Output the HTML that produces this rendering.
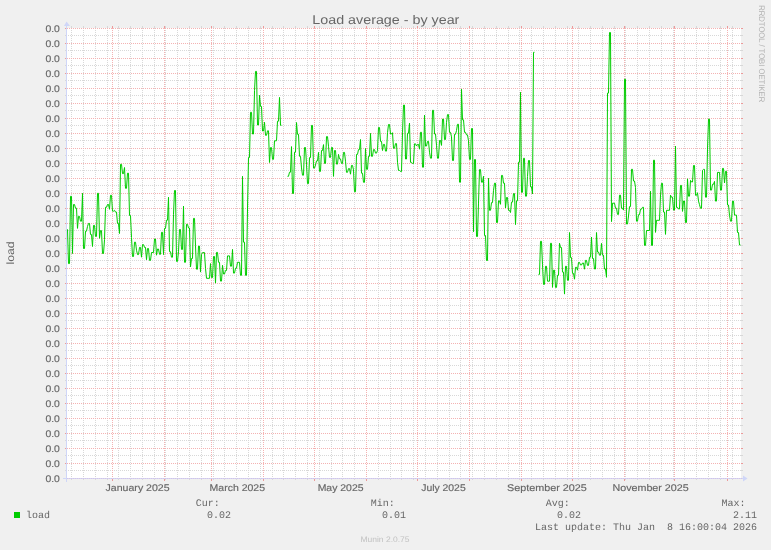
<!DOCTYPE html><html><head><meta charset="utf-8"><title>Load average - by year</title>
<style>html,body{margin:0;padding:0;background:#f0f0f0;overflow:hidden}svg{display:block;will-change:transform;-webkit-font-smoothing:antialiased}text{text-rendering:geometricPrecision}text{font-family:"Liberation Sans",sans-serif;fill:#666}.m{font-family:"Liberation Mono",monospace;font-size:10px}.a{font-size:9.7px;stroke:#666;stroke-width:.15px}</style></head><body>
<svg width="771" height="550" viewBox="0 0 771 550">
<rect width="771" height="550" fill="#f0f0f0"/>
<rect x="67" y="28" width="674" height="450" fill="#fff"/>
<g shape-rendering="crispEdges" fill="none" stroke-width="1">
<path d="M66 35.5H742" stroke="#d8d8d8" stroke-dasharray="1 1"/>
<path d="M65 35.5H67M741 35.5H743" stroke="#d8d8d8"/>
<path d="M66 50.5H742" stroke="#d8d8d8" stroke-dasharray="1 1"/>
<path d="M65 50.5H67M741 50.5H743" stroke="#d8d8d8"/>
<path d="M66 65.5H742" stroke="#d8d8d8" stroke-dasharray="1 1"/>
<path d="M65 65.5H67M741 65.5H743" stroke="#d8d8d8"/>
<path d="M66 80.5H742" stroke="#d8d8d8" stroke-dasharray="1 1"/>
<path d="M65 80.5H67M741 80.5H743" stroke="#d8d8d8"/>
<path d="M66 95.5H742" stroke="#d8d8d8" stroke-dasharray="1 1"/>
<path d="M65 95.5H67M741 95.5H743" stroke="#d8d8d8"/>
<path d="M66 110.5H742" stroke="#d8d8d8" stroke-dasharray="1 1"/>
<path d="M65 110.5H67M741 110.5H743" stroke="#d8d8d8"/>
<path d="M66 125.5H742" stroke="#d8d8d8" stroke-dasharray="1 1"/>
<path d="M65 125.5H67M741 125.5H743" stroke="#d8d8d8"/>
<path d="M66 140.5H742" stroke="#d8d8d8" stroke-dasharray="1 1"/>
<path d="M65 140.5H67M741 140.5H743" stroke="#d8d8d8"/>
<path d="M66 155.5H742" stroke="#d8d8d8" stroke-dasharray="1 1"/>
<path d="M65 155.5H67M741 155.5H743" stroke="#d8d8d8"/>
<path d="M66 170.5H742" stroke="#d8d8d8" stroke-dasharray="1 1"/>
<path d="M65 170.5H67M741 170.5H743" stroke="#d8d8d8"/>
<path d="M66 185.5H742" stroke="#d8d8d8" stroke-dasharray="1 1"/>
<path d="M65 185.5H67M741 185.5H743" stroke="#d8d8d8"/>
<path d="M66 200.5H742" stroke="#d8d8d8" stroke-dasharray="1 1"/>
<path d="M65 200.5H67M741 200.5H743" stroke="#d8d8d8"/>
<path d="M66 215.5H742" stroke="#d8d8d8" stroke-dasharray="1 1"/>
<path d="M65 215.5H67M741 215.5H743" stroke="#d8d8d8"/>
<path d="M66 230.5H742" stroke="#d8d8d8" stroke-dasharray="1 1"/>
<path d="M65 230.5H67M741 230.5H743" stroke="#d8d8d8"/>
<path d="M66 245.5H742" stroke="#d8d8d8" stroke-dasharray="1 1"/>
<path d="M65 245.5H67M741 245.5H743" stroke="#d8d8d8"/>
<path d="M66 260.5H742" stroke="#d8d8d8" stroke-dasharray="1 1"/>
<path d="M65 260.5H67M741 260.5H743" stroke="#d8d8d8"/>
<path d="M66 275.5H742" stroke="#d8d8d8" stroke-dasharray="1 1"/>
<path d="M65 275.5H67M741 275.5H743" stroke="#d8d8d8"/>
<path d="M66 290.5H742" stroke="#d8d8d8" stroke-dasharray="1 1"/>
<path d="M65 290.5H67M741 290.5H743" stroke="#d8d8d8"/>
<path d="M66 305.5H742" stroke="#d8d8d8" stroke-dasharray="1 1"/>
<path d="M65 305.5H67M741 305.5H743" stroke="#d8d8d8"/>
<path d="M66 320.5H742" stroke="#d8d8d8" stroke-dasharray="1 1"/>
<path d="M65 320.5H67M741 320.5H743" stroke="#d8d8d8"/>
<path d="M66 335.5H742" stroke="#d8d8d8" stroke-dasharray="1 1"/>
<path d="M65 335.5H67M741 335.5H743" stroke="#d8d8d8"/>
<path d="M66 350.5H742" stroke="#d8d8d8" stroke-dasharray="1 1"/>
<path d="M65 350.5H67M741 350.5H743" stroke="#d8d8d8"/>
<path d="M66 365.5H742" stroke="#d8d8d8" stroke-dasharray="1 1"/>
<path d="M65 365.5H67M741 365.5H743" stroke="#d8d8d8"/>
<path d="M66 380.5H742" stroke="#d8d8d8" stroke-dasharray="1 1"/>
<path d="M65 380.5H67M741 380.5H743" stroke="#d8d8d8"/>
<path d="M66 395.5H742" stroke="#d8d8d8" stroke-dasharray="1 1"/>
<path d="M65 395.5H67M741 395.5H743" stroke="#d8d8d8"/>
<path d="M66 410.5H742" stroke="#d8d8d8" stroke-dasharray="1 1"/>
<path d="M65 410.5H67M741 410.5H743" stroke="#d8d8d8"/>
<path d="M66 425.5H742" stroke="#d8d8d8" stroke-dasharray="1 1"/>
<path d="M65 425.5H67M741 425.5H743" stroke="#d8d8d8"/>
<path d="M66 440.5H742" stroke="#d8d8d8" stroke-dasharray="1 1"/>
<path d="M65 440.5H67M741 440.5H743" stroke="#d8d8d8"/>
<path d="M66 455.5H742" stroke="#d8d8d8" stroke-dasharray="1 1"/>
<path d="M65 455.5H67M741 455.5H743" stroke="#d8d8d8"/>
<path d="M66 470.5H742" stroke="#d8d8d8" stroke-dasharray="1 1"/>
<path d="M65 470.5H67M741 470.5H743" stroke="#d8d8d8"/>
<path d="M732.5 479V27" stroke="#d8d8d8" stroke-dasharray="1 1"/>
<path d="M732.5 26V28M732.5 478V480" stroke="#d8d8d8"/>
<path d="M720.5 479V27" stroke="#d8d8d8" stroke-dasharray="1 1"/>
<path d="M720.5 26V28M720.5 478V480" stroke="#d8d8d8"/>
<path d="M708.5 479V27" stroke="#d8d8d8" stroke-dasharray="1 1"/>
<path d="M708.5 26V28M708.5 478V480" stroke="#d8d8d8"/>
<path d="M696.5 479V27" stroke="#d8d8d8" stroke-dasharray="1 1"/>
<path d="M696.5 26V28M696.5 478V480" stroke="#d8d8d8"/>
<path d="M684.5 479V27" stroke="#d8d8d8" stroke-dasharray="1 1"/>
<path d="M684.5 26V28M684.5 478V480" stroke="#d8d8d8"/>
<path d="M673.5 479V27" stroke="#d8d8d8" stroke-dasharray="1 1"/>
<path d="M673.5 26V28M673.5 478V480" stroke="#d8d8d8"/>
<path d="M661.5 479V27" stroke="#d8d8d8" stroke-dasharray="1 1"/>
<path d="M661.5 26V28M661.5 478V480" stroke="#d8d8d8"/>
<path d="M649.5 479V27" stroke="#d8d8d8" stroke-dasharray="1 1"/>
<path d="M649.5 26V28M649.5 478V480" stroke="#d8d8d8"/>
<path d="M637.5 479V27" stroke="#d8d8d8" stroke-dasharray="1 1"/>
<path d="M637.5 26V28M637.5 478V480" stroke="#d8d8d8"/>
<path d="M625.5 479V27" stroke="#d8d8d8" stroke-dasharray="1 1"/>
<path d="M625.5 26V28M625.5 478V480" stroke="#d8d8d8"/>
<path d="M614.5 479V27" stroke="#d8d8d8" stroke-dasharray="1 1"/>
<path d="M614.5 26V28M614.5 478V480" stroke="#d8d8d8"/>
<path d="M602.5 479V27" stroke="#d8d8d8" stroke-dasharray="1 1"/>
<path d="M602.5 26V28M602.5 478V480" stroke="#d8d8d8"/>
<path d="M590.5 479V27" stroke="#d8d8d8" stroke-dasharray="1 1"/>
<path d="M590.5 26V28M590.5 478V480" stroke="#d8d8d8"/>
<path d="M578.5 479V27" stroke="#d8d8d8" stroke-dasharray="1 1"/>
<path d="M578.5 26V28M578.5 478V480" stroke="#d8d8d8"/>
<path d="M567.5 479V27" stroke="#d8d8d8" stroke-dasharray="1 1"/>
<path d="M567.5 26V28M567.5 478V480" stroke="#d8d8d8"/>
<path d="M555.5 479V27" stroke="#d8d8d8" stroke-dasharray="1 1"/>
<path d="M555.5 26V28M555.5 478V480" stroke="#d8d8d8"/>
<path d="M543.5 479V27" stroke="#d8d8d8" stroke-dasharray="1 1"/>
<path d="M543.5 26V28M543.5 478V480" stroke="#d8d8d8"/>
<path d="M531.5 479V27" stroke="#d8d8d8" stroke-dasharray="1 1"/>
<path d="M531.5 26V28M531.5 478V480" stroke="#d8d8d8"/>
<path d="M519.5 479V27" stroke="#d8d8d8" stroke-dasharray="1 1"/>
<path d="M519.5 26V28M519.5 478V480" stroke="#d8d8d8"/>
<path d="M508.5 479V27" stroke="#d8d8d8" stroke-dasharray="1 1"/>
<path d="M508.5 26V28M508.5 478V480" stroke="#d8d8d8"/>
<path d="M496.5 479V27" stroke="#d8d8d8" stroke-dasharray="1 1"/>
<path d="M496.5 26V28M496.5 478V480" stroke="#d8d8d8"/>
<path d="M484.5 479V27" stroke="#d8d8d8" stroke-dasharray="1 1"/>
<path d="M484.5 26V28M484.5 478V480" stroke="#d8d8d8"/>
<path d="M472.5 479V27" stroke="#d8d8d8" stroke-dasharray="1 1"/>
<path d="M472.5 26V28M472.5 478V480" stroke="#d8d8d8"/>
<path d="M460.5 479V27" stroke="#d8d8d8" stroke-dasharray="1 1"/>
<path d="M460.5 26V28M460.5 478V480" stroke="#d8d8d8"/>
<path d="M449.5 479V27" stroke="#d8d8d8" stroke-dasharray="1 1"/>
<path d="M449.5 26V28M449.5 478V480" stroke="#d8d8d8"/>
<path d="M437.5 479V27" stroke="#d8d8d8" stroke-dasharray="1 1"/>
<path d="M437.5 26V28M437.5 478V480" stroke="#d8d8d8"/>
<path d="M425.5 479V27" stroke="#d8d8d8" stroke-dasharray="1 1"/>
<path d="M425.5 26V28M425.5 478V480" stroke="#d8d8d8"/>
<path d="M413.5 479V27" stroke="#d8d8d8" stroke-dasharray="1 1"/>
<path d="M413.5 26V28M413.5 478V480" stroke="#d8d8d8"/>
<path d="M401.5 479V27" stroke="#d8d8d8" stroke-dasharray="1 1"/>
<path d="M401.5 26V28M401.5 478V480" stroke="#d8d8d8"/>
<path d="M390.5 479V27" stroke="#d8d8d8" stroke-dasharray="1 1"/>
<path d="M390.5 26V28M390.5 478V480" stroke="#d8d8d8"/>
<path d="M378.5 479V27" stroke="#d8d8d8" stroke-dasharray="1 1"/>
<path d="M378.5 26V28M378.5 478V480" stroke="#d8d8d8"/>
<path d="M354.5 479V27" stroke="#d8d8d8" stroke-dasharray="1 1"/>
<path d="M354.5 26V28M354.5 478V480" stroke="#d8d8d8"/>
<path d="M342.5 479V27" stroke="#d8d8d8" stroke-dasharray="1 1"/>
<path d="M342.5 26V28M342.5 478V480" stroke="#d8d8d8"/>
<path d="M331.5 479V27" stroke="#d8d8d8" stroke-dasharray="1 1"/>
<path d="M331.5 26V28M331.5 478V480" stroke="#d8d8d8"/>
<path d="M319.5 479V27" stroke="#d8d8d8" stroke-dasharray="1 1"/>
<path d="M319.5 26V28M319.5 478V480" stroke="#d8d8d8"/>
<path d="M307.5 479V27" stroke="#d8d8d8" stroke-dasharray="1 1"/>
<path d="M307.5 26V28M307.5 478V480" stroke="#d8d8d8"/>
<path d="M295.5 479V27" stroke="#d8d8d8" stroke-dasharray="1 1"/>
<path d="M295.5 26V28M295.5 478V480" stroke="#d8d8d8"/>
<path d="M283.5 479V27" stroke="#d8d8d8" stroke-dasharray="1 1"/>
<path d="M283.5 26V28M283.5 478V480" stroke="#d8d8d8"/>
<path d="M272.5 479V27" stroke="#d8d8d8" stroke-dasharray="1 1"/>
<path d="M272.5 26V28M272.5 478V480" stroke="#d8d8d8"/>
<path d="M260.5 479V27" stroke="#d8d8d8" stroke-dasharray="1 1"/>
<path d="M260.5 26V28M260.5 478V480" stroke="#d8d8d8"/>
<path d="M248.5 479V27" stroke="#d8d8d8" stroke-dasharray="1 1"/>
<path d="M248.5 26V28M248.5 478V480" stroke="#d8d8d8"/>
<path d="M236.5 479V27" stroke="#d8d8d8" stroke-dasharray="1 1"/>
<path d="M236.5 26V28M236.5 478V480" stroke="#d8d8d8"/>
<path d="M224.5 479V27" stroke="#d8d8d8" stroke-dasharray="1 1"/>
<path d="M224.5 26V28M224.5 478V480" stroke="#d8d8d8"/>
<path d="M213.5 479V27" stroke="#d8d8d8" stroke-dasharray="1 1"/>
<path d="M213.5 26V28M213.5 478V480" stroke="#d8d8d8"/>
<path d="M201.5 479V27" stroke="#d8d8d8" stroke-dasharray="1 1"/>
<path d="M201.5 26V28M201.5 478V480" stroke="#d8d8d8"/>
<path d="M189.5 479V27" stroke="#d8d8d8" stroke-dasharray="1 1"/>
<path d="M189.5 26V28M189.5 478V480" stroke="#d8d8d8"/>
<path d="M177.5 479V27" stroke="#d8d8d8" stroke-dasharray="1 1"/>
<path d="M177.5 26V28M177.5 478V480" stroke="#d8d8d8"/>
<path d="M165.5 479V27" stroke="#d8d8d8" stroke-dasharray="1 1"/>
<path d="M165.5 26V28M165.5 478V480" stroke="#d8d8d8"/>
<path d="M154.5 479V27" stroke="#d8d8d8" stroke-dasharray="1 1"/>
<path d="M154.5 26V28M154.5 478V480" stroke="#d8d8d8"/>
<path d="M142.5 479V27" stroke="#d8d8d8" stroke-dasharray="1 1"/>
<path d="M142.5 26V28M142.5 478V480" stroke="#d8d8d8"/>
<path d="M130.5 479V27" stroke="#d8d8d8" stroke-dasharray="1 1"/>
<path d="M130.5 26V28M130.5 478V480" stroke="#d8d8d8"/>
<path d="M118.5 479V27" stroke="#d8d8d8" stroke-dasharray="1 1"/>
<path d="M118.5 26V28M118.5 478V480" stroke="#d8d8d8"/>
<path d="M107.5 479V27" stroke="#d8d8d8" stroke-dasharray="1 1"/>
<path d="M107.5 26V28M107.5 478V480" stroke="#d8d8d8"/>
<path d="M95.5 479V27" stroke="#d8d8d8" stroke-dasharray="1 1"/>
<path d="M95.5 26V28M95.5 478V480" stroke="#d8d8d8"/>
<path d="M83.5 479V27" stroke="#d8d8d8" stroke-dasharray="1 1"/>
<path d="M83.5 26V28M83.5 478V480" stroke="#d8d8d8"/>
<path d="M71.5 479V27" stroke="#d8d8d8" stroke-dasharray="1 1"/>
<path d="M71.5 26V28M71.5 478V480" stroke="#d8d8d8"/>
<path d="M65 28.5H743" stroke="#f4b2b2" stroke-dasharray="1 1"/>
<path d="M65 28.5H67M741 28.5H743" stroke="#ec9a9a"/>
<path d="M65 43.5H743" stroke="#f4b2b2" stroke-dasharray="1 1"/>
<path d="M65 43.5H67M741 43.5H743" stroke="#ec9a9a"/>
<path d="M65 58.5H743" stroke="#f4b2b2" stroke-dasharray="1 1"/>
<path d="M65 58.5H67M741 58.5H743" stroke="#ec9a9a"/>
<path d="M65 73.5H743" stroke="#f4b2b2" stroke-dasharray="1 1"/>
<path d="M65 73.5H67M741 73.5H743" stroke="#ec9a9a"/>
<path d="M65 88.5H743" stroke="#f4b2b2" stroke-dasharray="1 1"/>
<path d="M65 88.5H67M741 88.5H743" stroke="#ec9a9a"/>
<path d="M65 103.5H743" stroke="#f4b2b2" stroke-dasharray="1 1"/>
<path d="M65 103.5H67M741 103.5H743" stroke="#ec9a9a"/>
<path d="M65 118.5H743" stroke="#f4b2b2" stroke-dasharray="1 1"/>
<path d="M65 118.5H67M741 118.5H743" stroke="#ec9a9a"/>
<path d="M65 133.5H743" stroke="#f4b2b2" stroke-dasharray="1 1"/>
<path d="M65 133.5H67M741 133.5H743" stroke="#ec9a9a"/>
<path d="M65 148.5H743" stroke="#f4b2b2" stroke-dasharray="1 1"/>
<path d="M65 148.5H67M741 148.5H743" stroke="#ec9a9a"/>
<path d="M65 163.5H743" stroke="#f4b2b2" stroke-dasharray="1 1"/>
<path d="M65 163.5H67M741 163.5H743" stroke="#ec9a9a"/>
<path d="M65 178.5H743" stroke="#f4b2b2" stroke-dasharray="1 1"/>
<path d="M65 178.5H67M741 178.5H743" stroke="#ec9a9a"/>
<path d="M65 193.5H743" stroke="#f4b2b2" stroke-dasharray="1 1"/>
<path d="M65 193.5H67M741 193.5H743" stroke="#ec9a9a"/>
<path d="M65 208.5H743" stroke="#f4b2b2" stroke-dasharray="1 1"/>
<path d="M65 208.5H67M741 208.5H743" stroke="#ec9a9a"/>
<path d="M65 223.5H743" stroke="#f4b2b2" stroke-dasharray="1 1"/>
<path d="M65 223.5H67M741 223.5H743" stroke="#ec9a9a"/>
<path d="M65 238.5H743" stroke="#f4b2b2" stroke-dasharray="1 1"/>
<path d="M65 238.5H67M741 238.5H743" stroke="#ec9a9a"/>
<path d="M65 253.5H743" stroke="#f4b2b2" stroke-dasharray="1 1"/>
<path d="M65 253.5H67M741 253.5H743" stroke="#ec9a9a"/>
<path d="M65 268.5H743" stroke="#f4b2b2" stroke-dasharray="1 1"/>
<path d="M65 268.5H67M741 268.5H743" stroke="#ec9a9a"/>
<path d="M65 283.5H743" stroke="#f4b2b2" stroke-dasharray="1 1"/>
<path d="M65 283.5H67M741 283.5H743" stroke="#ec9a9a"/>
<path d="M65 298.5H743" stroke="#f4b2b2" stroke-dasharray="1 1"/>
<path d="M65 298.5H67M741 298.5H743" stroke="#ec9a9a"/>
<path d="M65 313.5H743" stroke="#f4b2b2" stroke-dasharray="1 1"/>
<path d="M65 313.5H67M741 313.5H743" stroke="#ec9a9a"/>
<path d="M65 328.5H743" stroke="#f4b2b2" stroke-dasharray="1 1"/>
<path d="M65 328.5H67M741 328.5H743" stroke="#ec9a9a"/>
<path d="M65 343.5H743" stroke="#f4b2b2" stroke-dasharray="1 1"/>
<path d="M65 343.5H67M741 343.5H743" stroke="#ec9a9a"/>
<path d="M65 358.5H743" stroke="#f4b2b2" stroke-dasharray="1 1"/>
<path d="M65 358.5H67M741 358.5H743" stroke="#ec9a9a"/>
<path d="M65 373.5H743" stroke="#f4b2b2" stroke-dasharray="1 1"/>
<path d="M65 373.5H67M741 373.5H743" stroke="#ec9a9a"/>
<path d="M65 388.5H743" stroke="#f4b2b2" stroke-dasharray="1 1"/>
<path d="M65 388.5H67M741 388.5H743" stroke="#ec9a9a"/>
<path d="M65 403.5H743" stroke="#f4b2b2" stroke-dasharray="1 1"/>
<path d="M65 403.5H67M741 403.5H743" stroke="#ec9a9a"/>
<path d="M65 418.5H743" stroke="#f4b2b2" stroke-dasharray="1 1"/>
<path d="M65 418.5H67M741 418.5H743" stroke="#ec9a9a"/>
<path d="M65 433.5H743" stroke="#f4b2b2" stroke-dasharray="1 1"/>
<path d="M65 433.5H67M741 433.5H743" stroke="#ec9a9a"/>
<path d="M65 448.5H743" stroke="#f4b2b2" stroke-dasharray="1 1"/>
<path d="M65 448.5H67M741 448.5H743" stroke="#ec9a9a"/>
<path d="M65 463.5H743" stroke="#f4b2b2" stroke-dasharray="1 1"/>
<path d="M65 463.5H67M741 463.5H743" stroke="#ec9a9a"/>
<path d="M65 478.5H743" stroke="#f4b2b2" stroke-dasharray="1 1"/>
<path d="M65 478.5H67M741 478.5H743" stroke="#ec9a9a"/>
<path d="M727.5 481V26" stroke="#f4b2b2" stroke-dasharray="1 1"/>
<path d="M727.5 26V28M727.5 478V481" stroke="#ec9a9a"/>
<path d="M674.5 481V26" stroke="#f4b2b2" stroke-dasharray="1 1"/>
<path d="M674.5 26V28M674.5 478V481" stroke="#ec9a9a"/>
<path d="M624.5 481V26" stroke="#f4b2b2" stroke-dasharray="1 1"/>
<path d="M624.5 26V28M624.5 478V481" stroke="#ec9a9a"/>
<path d="M572.5 481V26" stroke="#f4b2b2" stroke-dasharray="1 1"/>
<path d="M572.5 26V28M572.5 478V481" stroke="#ec9a9a"/>
<path d="M521.5 481V26" stroke="#f4b2b2" stroke-dasharray="1 1"/>
<path d="M521.5 26V28M521.5 478V481" stroke="#ec9a9a"/>
<path d="M469.5 481V26" stroke="#f4b2b2" stroke-dasharray="1 1"/>
<path d="M469.5 26V28M469.5 478V481" stroke="#ec9a9a"/>
<path d="M417.5 481V26" stroke="#f4b2b2" stroke-dasharray="1 1"/>
<path d="M417.5 26V28M417.5 478V481" stroke="#ec9a9a"/>
<path d="M366.5 481V26" stroke="#f4b2b2" stroke-dasharray="1 1"/>
<path d="M366.5 26V28M366.5 478V481" stroke="#ec9a9a"/>
<path d="M314.5 481V26" stroke="#f4b2b2" stroke-dasharray="1 1"/>
<path d="M314.5 26V28M314.5 478V481" stroke="#ec9a9a"/>
<path d="M263.5 481V26" stroke="#f4b2b2" stroke-dasharray="1 1"/>
<path d="M263.5 26V28M263.5 478V481" stroke="#ec9a9a"/>
<path d="M211.5 481V26" stroke="#f4b2b2" stroke-dasharray="1 1"/>
<path d="M211.5 26V28M211.5 478V481" stroke="#ec9a9a"/>
<path d="M164.5 481V26" stroke="#f4b2b2" stroke-dasharray="1 1"/>
<path d="M164.5 26V28M164.5 478V481" stroke="#ec9a9a"/>
<path d="M112.5 481V26" stroke="#f4b2b2" stroke-dasharray="1 1"/>
<path d="M112.5 26V28M112.5 478V481" stroke="#ec9a9a"/>
</g>
<path d="M67.5 229.3L68.5 263.6L69.5 263.6L70.5 196.3L71.5 196.3L72.5 253.5L73.5 204.5L74.5 204.5L75.5 208.2L76.5 208.2L77.5 228.4L78.5 216.4L79.5 216.4L80.5 221.2L81.5 221.2L82.5 193.3L83.5 248.5L84.5 248.5L85.5 231.2L86.5 231.2L87.5 226.4L88.5 223.4L89.5 223.4L90.5 234.5L91.5 234.5L92.5 246.5L93.5 225.4L94.5 225.4L95.5 236.4L96.5 236.4L97.5 193.3L98.5 193.3L99.5 238.3L100.5 230.6L101.5 230.6L102.5 253.5L103.5 253.5L104.5 239.6L105.5 207.3L106.5 207.3L107.5 204.5L108.5 204.5L109.5 209.3L110.5 195.3L111.5 195.3L112.5 211.2L113.5 211.2L114.5 210.3L115.5 212.1L116.5 212.1L117.5 223.4L118.5 223.4L119.5 233.5L120.5 164.3L121.5 164.3L122.5 173.6L123.5 173.6L124.5 167.5L125.5 188.3L126.5 188.3L127.5 173.2L128.5 173.2L129.5 215.5L130.5 215.5L131.5 237.6L132.5 256.5L133.5 256.5L134.5 242.2L135.5 242.2L136.5 250.2L137.5 254.6L138.5 254.6L139.5 247.4L140.5 247.4L141.5 257.2L142.5 244.6L143.5 244.6L144.5 247.4L145.5 247.4L146.5 259.7L147.5 248.5L148.5 248.5L149.5 260.4L150.5 260.4L151.5 252.5L153.5 252.5L154.5 239L155.5 239L156.5 255.2L157.5 249L158.5 249L159.5 254.3L160.5 254.3L161.5 232.3L162.5 232.3L163.5 254.6L164.5 228.4L165.5 228.4L166.5 220.2L167.5 220.2L168.5 197.3L169.5 251.7L170.5 251.7L171.5 257.2L172.5 257.2L173.5 214.3L174.5 190.5L175.5 190.5L176.5 261.4L177.5 261.4L178.5 251.8L179.5 229.5L180.5 229.5L181.5 249.4L182.5 249.4L183.5 206.2L184.5 262.3L185.5 262.3L186.5 224.3L187.5 224.3L188.5 228L189.5 228L190.5 266.9L191.5 258.5L192.5 258.5L193.5 218.4L194.5 218.4L195.5 245.8L196.5 269.2L197.5 269.2L198.5 246.1L199.5 246.1L200.5 272.1L201.5 254.6L202.5 252.6L204.5 252.6L205.5 268.4L206.5 278.3L209.5 278.3L210.5 263.6L211.5 277.6L212.5 277.6L213.5 256.5L214.5 256.5L215.5 283.1L216.5 252.4L217.5 252.4L218.5 262.3L219.5 262.3L220.5 281.1L221.5 281.1L222.5 265.3L223.5 274L224.5 274L225.5 270.5L226.5 270.5L227.5 255.9L229.5 255.9L230.5 266.2L231.5 266.2L232.5 249.4L233.5 273.1L234.5 273.1L235.5 268.2L236.5 268.2L237.5 262.3L239.5 262.3L240.5 275.3L241.5 275.3L242.5 176.3L243.5 242.2L244.5 242.2L245.5 275.3L246.5 275.3L247.5 209L248.5 157.5L249.5 157.5L250.5 112.3L251.5 112.3L252.5 134L253.5 134L254.5 90.7L255.5 71.4L256.5 71.4L257.5 125L258.5 125L259.5 95.3L260.5 106.4L261.5 106.4L262.5 131L263.5 131L264.5 122.3L265.5 135.3L266.5 135.3L267.5 130.8L268.5 130.8L269.5 162.5L270.5 147.6L271.5 147.6L272.5 159.3L273.5 159.3L274.5 140.8L276.5 140.8L277.5 121.2L278.5 121.2L279.5 97.4L280.5 125.3L281.5 125.3M287.5 176.3L288.5 176.3L289.5 172.2L290.5 172.2L291.5 146.6L292.5 193.5L293.5 193.5L294.5 152.2L295.5 152.2L296.5 122.5L297.5 134.3L298.5 134.3L299.5 156.3L300.5 156.3L301.5 167.9L302.5 175.2L303.5 175.2L304.5 147.5L305.5 147.5L306.5 164.2L307.5 183.6L308.5 183.6L309.5 157.6L310.5 157.6L311.5 125.4L312.5 125.4L313.5 168.1L314.5 168.1L315.5 165L316.5 160.9L317.5 160.9L318.5 152.4L319.5 171.4L320.5 171.4L321.5 150.5L322.5 150.5L323.5 144.6L324.5 163.4L325.5 163.4L326.5 136.6L327.5 136.6L328.5 146.2L329.5 157.4L330.5 157.4L331.5 147.5L332.5 147.5L333.5 176.4L334.5 150.5L335.5 150.5L336.5 164.1L337.5 164.1L338.5 154.4L339.5 158.9L340.5 158.9L341.5 163.4L342.5 163.4L343.5 152.4L344.5 152.4L345.5 161.2L346.5 172.3L347.5 172.3L348.5 168.6L349.5 168.6L350.5 174.2L351.5 165.4L352.5 165.4L353.5 169.9L354.5 191.8L355.5 191.8L356.5 154.4L357.5 154.4L358.5 149.6L359.5 149.6L360.5 139.5L361.5 173.2L362.5 173.2L363.5 182.3L364.5 182.3L365.5 148.5L366.5 169.3L367.5 169.3L368.5 156.3L369.5 156.3L370.5 133.4L371.5 156.3L372.5 156.3L373.5 149.6L374.5 149.6L375.5 153.1L376.5 153.1L377.5 150.5L378.5 127.5L379.5 127.5L380.5 141.4L381.5 141.4L382.5 150.5L383.5 144.4L384.5 144.4L385.5 151.1L386.5 151.1L387.5 132.7L388.5 124.5L389.5 124.5L390.5 134L391.5 134L392.5 132.7L393.5 148.3L394.5 148.3L395.5 143.6L396.5 143.6L397.5 162.2L398.5 170.4L399.5 170.4L400.5 171.5L401.5 171.5L402.5 132.8L403.5 105.1L404.5 105.1L405.5 159L406.5 159L407.5 133.3L408.5 133.3L409.5 123.2L410.5 162.3L411.5 162.3L412.5 163.5L413.5 163.5L414.5 143.8L415.5 143.8L416.5 146L417.5 144.4L418.5 144.4L419.5 149.2L420.5 132.3L421.5 132.3L422.5 167.2L423.5 167.2L424.5 115.2L425.5 146L426.5 146L427.5 141.4L428.5 141.4L429.5 152.2L430.5 158.2L431.5 158.2L432.5 110.3L433.5 110.3L434.5 134L435.5 134L436.5 145.2L437.5 158.2L438.5 158.2L439.5 140.5L440.5 140.5L441.5 145.4L442.5 119.1L443.5 119.1L444.5 139.5L445.5 139.5L446.5 122.3L447.5 114.6L448.5 114.6L449.5 132.3L450.5 132.3L451.5 136.9L452.5 160.5L453.5 160.5L454.5 134.3L455.5 134.3L456.5 130.5L457.5 124.3L458.5 124.3L459.5 182.2L460.5 182.2L461.5 89.2L462.5 119.8L463.5 119.8L464.5 132.3L465.5 132.3L466.5 134.9L467.5 134.9L468.5 140.8L469.5 159.4L470.5 159.4L471.5 128.5L472.5 128.5L473.5 231.7L474.5 159.5L475.5 159.5L476.5 236.5L477.5 236.5L478.5 203.1L479.5 169.6L480.5 169.6L481.5 182.2L482.5 182.2L483.5 176.3L484.5 235.5L485.5 235.5L486.5 260.5L487.5 260.5L488.5 178.3L489.5 210.3L490.5 210.3L491.5 202.6L492.5 202.6L493.5 190.3L494.5 183.2L495.5 183.2L496.5 222.5L497.5 222.5L498.5 200.8L499.5 200.8L500.5 204.3L501.5 175.4L502.5 175.4L503.5 183.2L504.5 183.2L505.5 208L506.5 197.5L507.5 197.5L508.5 210.3L509.5 210.3L510.5 212.5L511.5 202.1L512.5 202.1L513.5 193.6L514.5 193.6L515.5 224.6L516.5 200.8L517.5 200.8L518.5 162.2L519.5 162.2L520.5 92.3L521.5 192.3L522.5 192.3L523.5 158.3L524.5 158.3L525.5 196.2L526.5 196.2L527.5 176.4L528.5 160.5L529.5 160.5L530.5 186.8L531.5 186.8L532.5 194L533.5 52.3L534.5 52.3M538.5 274.4L539.5 274.4L540.5 241.3L541.5 241.3L542.5 264.8L543.5 284.4L544.5 284.4L545.5 266.3L546.5 266.3L547.5 281.2L549.5 281.2L550.5 243.3L551.5 243.3L552.5 287.4L553.5 270.2L554.5 270.2L555.5 287.4L556.5 287.4L557.5 275.3L558.5 275.3L559.5 243.3L560.5 247.5L561.5 247.5L562.5 272.1L563.5 272.1L564.5 294.1L565.5 266.3L566.5 266.3L567.5 280.3L568.5 280.3L569.5 232.5L570.5 257.6L571.5 257.6L572.5 273.4L573.5 273.4L574.5 279.2L575.5 267.3L576.5 267.3L577.5 270.2L578.5 262.4L579.5 262.4L580.5 265L581.5 265L582.5 263L583.5 263L584.5 269.2L585.5 260.4L586.5 260.4L587.5 265.4L588.5 265.4L589.5 257.2L590.5 257.2L591.5 237.2L592.5 258.5L593.5 258.5L594.5 269L595.5 269L596.5 232.5L597.5 252L598.5 252L599.5 255.2L600.5 255.2L601.5 243.4L602.5 255.2L603.5 255.2L604.5 269L605.5 269L606.5 277.3L607.5 93.1L608.5 93.1L609.5 32.5L610.5 32.5L611.5 221.6L612.5 203.2L614.5 203.2L615.5 208.2L616.5 208.2L617.5 214.4L618.5 214.4L619.5 195.2L620.5 195.2L621.5 208.2L622.5 208.2L623.5 210.1L624.5 79.2L625.5 79.2L626.5 224L627.5 224L628.5 216L629.5 206.6L630.5 206.6L631.5 169.3L632.5 169.3L633.5 181L634.5 181L635.5 187.4L636.5 221.2L637.5 221.2L638.5 214.7L639.5 214.7L640.5 209.2L641.5 209.2L642.5 207.3L643.5 207.3L644.5 245.4L645.5 245.4L646.5 230.5L649.5 230.5L650.5 191.3L651.5 245.4L652.5 245.4L653.5 160.2L654.5 160.2L655.5 232.4L656.5 220.3L659.5 220.3L660.5 194.9L661.5 183.3L662.5 183.3L663.5 212.1L664.5 212.1L665.5 234.4L666.5 210.3L669.5 210.3L670.5 195.2L671.5 197.2L672.5 197.2L673.5 210.1L674.5 210.1L675.5 146.2L676.5 207.4L677.5 207.4L678.5 209L679.5 209L680.5 185.4L681.5 185.4L682.5 211.4L683.5 201L684.5 201L685.5 222.5L686.5 222.5L687.5 178.8L688.5 196.2L689.5 196.2L690.5 180.4L691.5 182L692.5 182L693.5 165.5L694.5 165.5L695.5 195.3L696.5 195.3L697.5 192.7L698.5 201.1L699.5 204.7L700.5 208.3L701.5 208.3L702.5 170.3L703.5 169.4L704.5 169.4L705.5 197.2L706.5 197.2L707.5 149.1L708.5 119.1L709.5 119.1L710.5 190.1L711.5 190.1L712.5 184.3L713.5 184.3L714.5 181.4L715.5 201.1L716.5 201.1L717.5 172.4L719.5 172.4L720.5 190.1L721.5 190.1L722.5 168.4L723.5 168.4L724.5 183L725.5 171.3L726.5 171.3L727.5 205L728.5 205L729.5 215.3L730.5 221.2L731.5 221.2L732.5 201.1L733.5 201.1L734.5 215.1L736.5 215.1L737.5 232.5L738.5 232.5L739.5 245L740.5 245" fill="none" stroke="#00cc00" stroke-width="1" stroke-linejoin="miter" stroke-miterlimit="10"/>
<g shape-rendering="crispEdges"><rect x="66" y="24" width="1" height="458" fill="#cfd6f8"/><rect x="63" y="478" width="682" height="1" fill="#cfd6f8"/></g>
<path d="M67 478.5H743" stroke="#e9a0b8" stroke-dasharray="1 1" shape-rendering="crispEdges" opacity="0.35"/>
<path d="M64 26L66.5 21.5L70 26Z" fill="#cfd6f8"/><path d="M743 475.5L747.5 478.5L743 481.5Z" fill="#cfd6f8"/>
<text x="312.3" y="23.8" class="t" text-anchor="start" textLength="147.1" lengthAdjust="spacingAndGlyphs" style="font-size:12.6px" xml:space="preserve">Load average - by year</text>
<text x="45.4" y="31.7" class="a" text-anchor="start" textLength="14.4" lengthAdjust="spacingAndGlyphs" xml:space="preserve">0.0</text>
<text x="45.4" y="46.7" class="a" text-anchor="start" textLength="14.4" lengthAdjust="spacingAndGlyphs" xml:space="preserve">0.0</text>
<text x="45.4" y="61.7" class="a" text-anchor="start" textLength="14.4" lengthAdjust="spacingAndGlyphs" xml:space="preserve">0.0</text>
<text x="45.4" y="76.7" class="a" text-anchor="start" textLength="14.4" lengthAdjust="spacingAndGlyphs" xml:space="preserve">0.0</text>
<text x="45.4" y="91.7" class="a" text-anchor="start" textLength="14.4" lengthAdjust="spacingAndGlyphs" xml:space="preserve">0.0</text>
<text x="45.4" y="106.7" class="a" text-anchor="start" textLength="14.4" lengthAdjust="spacingAndGlyphs" xml:space="preserve">0.0</text>
<text x="45.4" y="121.7" class="a" text-anchor="start" textLength="14.4" lengthAdjust="spacingAndGlyphs" xml:space="preserve">0.0</text>
<text x="45.4" y="136.7" class="a" text-anchor="start" textLength="14.4" lengthAdjust="spacingAndGlyphs" xml:space="preserve">0.0</text>
<text x="45.4" y="151.7" class="a" text-anchor="start" textLength="14.4" lengthAdjust="spacingAndGlyphs" xml:space="preserve">0.0</text>
<text x="45.4" y="166.7" class="a" text-anchor="start" textLength="14.4" lengthAdjust="spacingAndGlyphs" xml:space="preserve">0.0</text>
<text x="45.4" y="181.7" class="a" text-anchor="start" textLength="14.4" lengthAdjust="spacingAndGlyphs" xml:space="preserve">0.0</text>
<text x="45.4" y="196.7" class="a" text-anchor="start" textLength="14.4" lengthAdjust="spacingAndGlyphs" xml:space="preserve">0.0</text>
<text x="45.4" y="211.7" class="a" text-anchor="start" textLength="14.4" lengthAdjust="spacingAndGlyphs" xml:space="preserve">0.0</text>
<text x="45.4" y="226.7" class="a" text-anchor="start" textLength="14.4" lengthAdjust="spacingAndGlyphs" xml:space="preserve">0.0</text>
<text x="45.4" y="241.7" class="a" text-anchor="start" textLength="14.4" lengthAdjust="spacingAndGlyphs" xml:space="preserve">0.0</text>
<text x="45.4" y="256.7" class="a" text-anchor="start" textLength="14.4" lengthAdjust="spacingAndGlyphs" xml:space="preserve">0.0</text>
<text x="45.4" y="271.7" class="a" text-anchor="start" textLength="14.4" lengthAdjust="spacingAndGlyphs" xml:space="preserve">0.0</text>
<text x="45.4" y="286.7" class="a" text-anchor="start" textLength="14.4" lengthAdjust="spacingAndGlyphs" xml:space="preserve">0.0</text>
<text x="45.4" y="301.7" class="a" text-anchor="start" textLength="14.4" lengthAdjust="spacingAndGlyphs" xml:space="preserve">0.0</text>
<text x="45.4" y="316.7" class="a" text-anchor="start" textLength="14.4" lengthAdjust="spacingAndGlyphs" xml:space="preserve">0.0</text>
<text x="45.4" y="331.7" class="a" text-anchor="start" textLength="14.4" lengthAdjust="spacingAndGlyphs" xml:space="preserve">0.0</text>
<text x="45.4" y="346.7" class="a" text-anchor="start" textLength="14.4" lengthAdjust="spacingAndGlyphs" xml:space="preserve">0.0</text>
<text x="45.4" y="361.7" class="a" text-anchor="start" textLength="14.4" lengthAdjust="spacingAndGlyphs" xml:space="preserve">0.0</text>
<text x="45.4" y="376.7" class="a" text-anchor="start" textLength="14.4" lengthAdjust="spacingAndGlyphs" xml:space="preserve">0.0</text>
<text x="45.4" y="391.7" class="a" text-anchor="start" textLength="14.4" lengthAdjust="spacingAndGlyphs" xml:space="preserve">0.0</text>
<text x="45.4" y="406.7" class="a" text-anchor="start" textLength="14.4" lengthAdjust="spacingAndGlyphs" xml:space="preserve">0.0</text>
<text x="45.4" y="421.7" class="a" text-anchor="start" textLength="14.4" lengthAdjust="spacingAndGlyphs" xml:space="preserve">0.0</text>
<text x="45.4" y="436.7" class="a" text-anchor="start" textLength="14.4" lengthAdjust="spacingAndGlyphs" xml:space="preserve">0.0</text>
<text x="45.4" y="451.7" class="a" text-anchor="start" textLength="14.4" lengthAdjust="spacingAndGlyphs" xml:space="preserve">0.0</text>
<text x="45.4" y="466.7" class="a" text-anchor="start" textLength="14.4" lengthAdjust="spacingAndGlyphs" xml:space="preserve">0.0</text>
<text x="45.4" y="481.7" class="a" text-anchor="start" textLength="14.4" lengthAdjust="spacingAndGlyphs" xml:space="preserve">0.0</text>
<text x="105.6" y="490.9" class="a" text-anchor="start" textLength="64" lengthAdjust="spacingAndGlyphs" xml:space="preserve">January 2025</text>
<text x="209.6" y="490.9" class="a" text-anchor="start" textLength="55.4" lengthAdjust="spacingAndGlyphs" xml:space="preserve">March 2025</text>
<text x="317.7" y="490.9" class="a" text-anchor="start" textLength="45.8" lengthAdjust="spacingAndGlyphs" xml:space="preserve">May 2025</text>
<text x="421.2" y="490.9" class="a" text-anchor="start" textLength="44.5" lengthAdjust="spacingAndGlyphs" xml:space="preserve">July 2025</text>
<text x="507.0" y="490.9" class="a" text-anchor="start" textLength="79.8" lengthAdjust="spacingAndGlyphs" xml:space="preserve">September 2025</text>
<text x="612.5" y="490.9" class="a" text-anchor="start" textLength="76.2" lengthAdjust="spacingAndGlyphs" xml:space="preserve">November 2025</text>
<text transform="translate(13.6,264.6) rotate(-90)" style="font-size:10.6px" textLength="23.2" lengthAdjust="spacingAndGlyphs">load</text>
<rect x="14" y="512" width="6" height="6" fill="#00cc00" shape-rendering="crispEdges"/>
<text x="26" y="517.8" class="m" text-anchor="start" xml:space="preserve">load</text>
<text x="195.7" y="506" class="m" text-anchor="start" xml:space="preserve">Cur:</text>
<text x="370.7" y="506" class="m" text-anchor="start" xml:space="preserve">Min:</text>
<text x="545.7" y="506" class="m" text-anchor="start" xml:space="preserve">Avg:</text>
<text x="721.4" y="506" class="m" text-anchor="start" xml:space="preserve">Max:</text>
<text x="207" y="517.8" class="m" text-anchor="start" xml:space="preserve">0.02</text>
<text x="382" y="517.8" class="m" text-anchor="start" xml:space="preserve">0.01</text>
<text x="557" y="517.8" class="m" text-anchor="start" xml:space="preserve">0.02</text>
<text x="733" y="517.8" class="m" text-anchor="start" xml:space="preserve">2.11</text>
<text x="535" y="530" class="m" text-anchor="start" xml:space="preserve">Last update: Thu Jan  8 16:00:04 2026</text>
<text x="360.5" y="542.1" textLength="49" lengthAdjust="spacingAndGlyphs" style="font-size:8px;fill:#c2c2c2">Munin 2.0.75</text>
<text transform="translate(759.4,5.2) rotate(90)" textLength="97" lengthAdjust="spacingAndGlyphs" style="font-size:8.1px;fill:#b2b2b2">RRDTOOL / TOBI OETIKER</text>
</svg></body></html>
